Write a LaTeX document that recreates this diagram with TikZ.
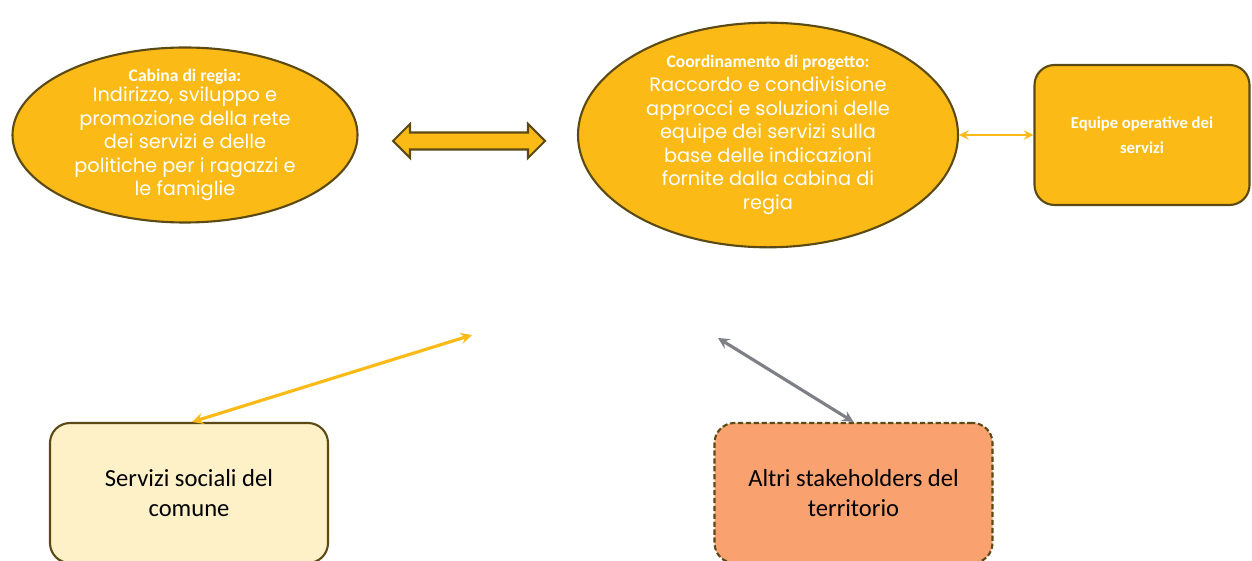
\documentclass[tikz,border=0pt]{standalone}
\usepackage{fontspec}
\setmainfont{Carlito}
\newfontfamily\popfont{Poppins}
\usepackage{xcolor}
\usetikzlibrary{shapes.geometric,shapes.arrows}
\definecolor{oro}{HTML}{FBBA16}
\definecolor{bordo}{HTML}{5B4A14}
\definecolor{crema}{HTML}{FEF0C7}
\definecolor{salmone}{HTML}{F9A270}
\definecolor{grigio}{HTML}{7F7F87}
\newcommand{\titolo}[1]{{\normalfont\bfseries\fontsize{10}{12}\selectfont #1}}

\begin{document}
\begin{tikzpicture}
            [thick,
            ovale/.style = {ellipse, fill=oro, draw=bordo, line width=1.2pt,
                        text=white, align=center, inner sep=0pt,
                        font=\popfont\fontsize{11}{13.4}\selectfont},
            scatola/.style = {rectangle, rounded corners=0.4cm, draw=bordo,
                        line width=1.2pt, align=center, minimum width=5.56cm,
                        minimum height=2.8cm, font=\fontsize{14}{17}\selectfont},
            freccia/.style = {{stealth}-{stealth}, line width=1.8pt}]
            \useasboundingbox (0,0) rectangle (25.04,11.2);
            % Ovali
            \node[ovale, minimum width=6.9cm, minimum height=3.5cm, inner ysep=-0.1cm] (cab) at (3.7,8.5)
                {\titolo{Cabina di regia:}\\[-2pt]
                 Indirizzo, sviluppo e\\ promozione della rete\\ dei servizi e delle\\
                 politiche per i ragazzi e\\ le famiglie};
            \node[ovale, minimum width=7.6cm, minimum height=4.4cm] (coord) at (15.36,8.5)
                {\titolo{Coordinamento di progetto:}\\[0pt]
                 Raccordo e condivisione\\ approcci e soluzioni delle\\ equipe dei servizi sulla\\
                 base delle indicazioni\\ fornite dalla cabina di\\ regia};
            \node[double arrow, fill=oro, draw=bordo, line width=1.2pt,
                minimum width=0.68cm, minimum height=3.04cm,
                double arrow head extend=0.12cm, inner sep=0.1cm] (doppia) at (9.38,8.38) {};
            % Scatole
            \node[scatola, fill=oro, minimum width=4.3cm, text=white,
                font=\bfseries\fontsize{9.5}{14}\selectfont] (equipe) at (22.84,8.5)
                {Equipe operative dei\\servizi};
            \node[scatola, fill=crema] (soc) at (3.78,1.34)
                {Servizi sociali del\\comune};
            \node[scatola, fill=salmone, dash pattern=on 3pt off 1.5pt] (altri) at (17.07,1.34)
                {Altri stakeholders del\\territorio};
            % Frecce
            \coordinate (fineA) at (9.44,4.5);
            \coordinate (fineB) at (14.36,4.44);
            \draw[freccia, oro, line width=1.4pt] (coord.east) -- (equipe.west);
            \draw[freccia, oro] ([xshift=0.06cm]soc.north) -- (fineA);
            \draw[freccia, grigio] (fineB) -- (altri.north);
        \end{tikzpicture}
\end{document}
